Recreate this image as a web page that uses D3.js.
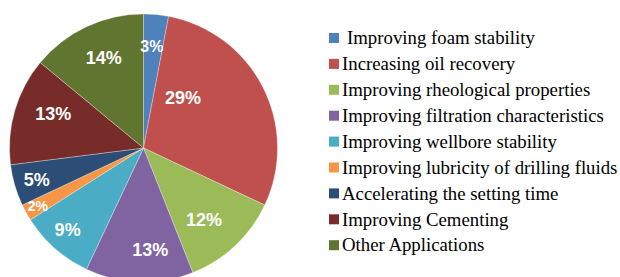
<!DOCTYPE html>
<html>
<head>
<meta charset="utf-8">
<script src="https://cdn.jsdelivr.net/npm/d3@7"></script>
<style>
    body { margin: 0; background: #fff; }
    .pct { font-family: "Liberation Sans", Arial, sans-serif; font-weight: bold; }
    .row text { font-family: "Liberation Serif", "Times New Roman", Times, "DejaVu Serif", serif; }
</style>
</head>
<body>
<div id="chart-area"></div>
<script>
// data
var categories = [
    "Improving foam stability",
    "Increasing oil recovery",
    "Improving rheological properties",
    "Improving filtration characteristics",
    "Improving wellbore stability",
    "Improving lubricity of drilling fluids",
    "Accelerating the setting time",
    "Improving Cementing",
    "Other Applications"
];
var shares = [3, 29, 12, 13, 9, 2, 5, 13, 14];
var colors = ["#4F81BD", "#C0504D", "#9BBB59", "#8064A2", "#4BACC6",
              "#F79646", "#2C4D75", "#772C2A", "#5F7530"];

// where each label sits: fraction along slice angle, fraction of radius
var labelAlong = [0.44, 0.26, 0.57, 0.38, 0.55, 0.5, 0.5, 0.6, 0.53];
var labelRad = [0.76, 0.48, 0.70, 0.76, 0.83, 0.9, 0.83, 0.72, 0.74];

var width = 620, height = 277;
var cx = 143.5, cy = 148, radius = 134;

var svg = d3.select("#chart-area").append("svg")
    .attr("width", width)
    .attr("height", height);

var g = svg.append("g").attr("transform", "translate(" + cx + ", " + cy + ")");

var pie = d3.pie().sort(null).value((d) => { return d; });
var arcs = pie(shares);

var arc = d3.arc().innerRadius(0).outerRadius(radius);

g.selectAll("path")
    .data(arcs)
    .enter().append("path")
    .attr("d", arc)
    .attr("fill", (d, i) => { return colors[i]; })
    .attr("stroke", "#ffffff")
    .attr("stroke-opacity", 0.5)
    .attr("stroke-width", 0.6);

// labels
g.selectAll("text.pct")
    .data(arcs)
    .enter().append("text")
    .attr("class", "pct")
    .attr("transform", (d, i) => {
        var a = d.startAngle + (d.endAngle - d.startAngle) * labelAlong[i];
        var r = radius * labelRad[i];
        return "translate(" + (Math.sin(a) * r) + ", " + (-Math.cos(a) * r) + ")";
    })
    .attr("text-anchor", "middle")
    .attr("dy", "0.36em")
    .attr("font-size", (d) => {
        return d.value <= 2 ? "14px" : (d.value <= 3 ? "16px" : "18px");
    })
    .style("fill", "#ffffff")
    .text((d) => { return d.value + "%"; });

// legend
var legend = svg.append("g").attr("transform", "translate(329, 38)");
var rowH = 25.9;

var rows = legend.selectAll("g.row")
    .data(categories)
    .enter().append("g")
    .attr("class", "row")
    .attr("transform", (d, i) => { return "translate(0, " + (i * rowH) + ")"; });

rows.append("rect")
    .attr("x", 0)
    .attr("y", -5)
    .attr("width", 10)
    .attr("height", 10)
    .attr("fill", (d, i) => { return colors[i]; });

rows.append("text")
    .attr("x", (d, i) => { return i === 0 ? 18 : 13; })
    .attr("y", 0)
    .attr("dy", "0.33em")
    .attr("font-size", "18.8px")
    .style("fill", "#000000")
    .text((d) => { return d; });
</script>
</body>
</html>
